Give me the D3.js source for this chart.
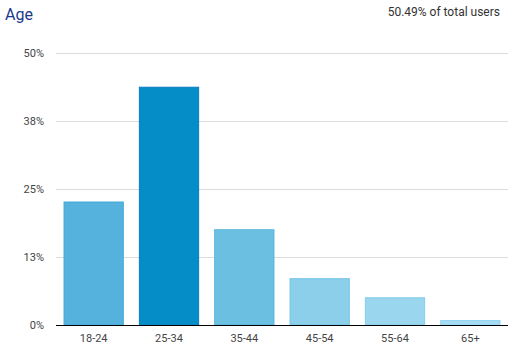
<!DOCTYPE html>
<html>
<head>
<meta charset="utf-8">
<script src="https://cdn.jsdelivr.net/npm/d3@7"></script>
<style>
  html, body { margin: 0; padding: 0; background: #fff; }
  svg { display: block; font-family: Roboto, Arial, sans-serif; }
</style>
</head>
<body>
<svg id="chart" width="514" height="351"></svg>
<script>
const categories = ["18-24", "25-34", "35-44", "45-54", "55-64", "65+"];
const values = [22.7, 43.8, 17.6, 8.6, 5.1, 0.9];
const fills = ["#55b2dc", "#058dc7", "#6bc0e2", "#8bcfeb", "#9bd6ef", "#a6dcf3"];
const strokes = ["#42a9d9", "#0a7cc0", "#55b5de", "#72c5e7", "#84cdeb", "#8fd3ef"];
const tickValues = [0, 12.5, 25, 37.5, 50];
const tickLabels = ["0%", "13%", "25%", "38%", "50%"];
const title = "Age";
const subtitle = "50.49% of total users";

(function () {
const svg = d3.select("#chart");
const mLeft = 56, mRight = 508, mTop = 53, mBottom = 325;

const x = d3.scaleBand().domain(categories).range([mLeft, mRight]).paddingInner(0.2).paddingOuter(0.1);
const y = d3.scaleLinear().domain([0, 50]).range([mBottom, mTop]);

// gridlines
svg.append("g").selectAll("line").data(tickValues.filter(v => v > 0)).join("line")
  .attr("x1", mLeft).attr("x2", mRight)
  .attr("y1", d => Math.round(y(d)) + 0.5).attr("y2", d => Math.round(y(d)) + 0.5)
  .attr("stroke", "#dcdcdc").attr("stroke-width", 1);

// y labels
svg.append("g").selectAll("text").data(tickValues).join("text")
  .attr("x", 44).attr("y", d => y(d) + 4)
  .attr("text-anchor", "end")
  .attr("font-size", 11).attr("fill", "#444")
  .text((d, i) => tickLabels[i]);

// bars
svg.append("g").selectAll("rect").data(values).join("rect")
  .attr("x", (d, i) => x(categories[i]) + 0.5)
  .attr("y", d => y(d) + 0.5)
  .attr("width", x.bandwidth() - 1)
  .attr("height", d => mBottom - y(d) - 0.5)
  .attr("fill", (d, i) => fills[i])
  .attr("stroke", (d, i) => strokes[i])
  .attr("stroke-width", 1);

// x axis line
svg.append("line")
  .attr("x1", mLeft).attr("x2", mRight)
  .attr("y1", mBottom + 0.5).attr("y2", mBottom + 0.5)
  .attr("stroke", "#000").attr("stroke-width", 1);

// x labels
svg.append("g").selectAll("text").data(categories).join("text")
  .attr("x", d => x(d) + x.bandwidth() / 2)
  .attr("y", 342)
  .attr("text-anchor", "middle")
  .attr("font-size", 11).attr("fill", "#444")
  .text(d => d);

// title
svg.append("text").attr("x", 5).attr("y", 20)
  .attr("font-size", 16).attr("fill", "#1a3a8c").text(title);

svg.append("text").attr("x", 500).attr("y", 16)
  .attr("text-anchor", "end")
  .attr("font-size", 12).attr("fill", "#333").text(subtitle);
})();
</script>
</body>
</html>
